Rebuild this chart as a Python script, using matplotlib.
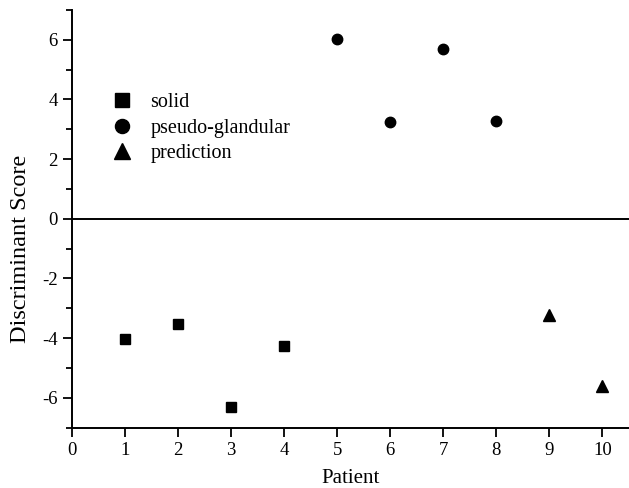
import matplotlib
matplotlib.use("Agg")
import matplotlib.pyplot as plt
from matplotlib.ticker import MultipleLocator

# discriminant scores per patient
solid_patients = [1, 2, 3, 4]
solid_scores = [-4.03, -3.54, -6.30, -4.26]

glandular_patients = [5, 6, 7, 8]
glandular_scores = [6.02, 3.26, 5.70, 3.29]

prediction_patients = [9, 10]
prediction_scores = [-3.24, -5.59]

x_ticks = list(range(0, 11))
y_ticks = [-6, -4, -2, 0, 2, 4, 6]

plt.rcParams["font.family"] = ["Liberation Serif", "DejaVu Serif"]
plt.rcParams["axes.unicode_minus"] = False

fig = plt.figure(figsize=(6.29, 4.88), dpi=100)
ax = fig.add_axes([0.114, 0.1236, 0.886, 0.856])

ax.plot(solid_patients, solid_scores, "s", color="black", ms=7, label="solid")
ax.plot(glandular_patients, glandular_scores, "o", color="black", ms=7.5,
        label="pseudo-glandular")
ax.plot(prediction_patients, prediction_scores, "^", color="black", ms=8.5,
        label="prediction")

ax.axhline(0, color="black", lw=1.4)

ax.set_xlim(0, 10.5)
ax.set_ylim(-7, 7)
ax.set_xticks(x_ticks)
ax.set_yticks(y_ticks)
ax.yaxis.set_minor_locator(MultipleLocator(1))

for side in ("top", "right"):
    ax.spines[side].set_visible(False)
for side in ("left", "bottom"):
    ax.spines[side].set_linewidth(1.4)

ax.tick_params(axis="both", which="major", direction="out", length=6.5,
               width=1.3, labelsize=13.5, colors="black")
ax.tick_params(axis="y", which="minor", direction="out", length=4, width=1.3)

ax.set_xlabel("Patient", fontsize=15)
ax.xaxis.set_label_coords(0.5, -0.1)
ax.set_ylabel("Discriminant Score", fontsize=17.5)
# the label sits a bit below the middle of the axis in the original
ax.yaxis.set_label_coords(-0.073, 0.4275)

ax.legend(loc="upper left", bbox_to_anchor=(0.04, 0.844), frameon=False,
          fontsize=14.5, markerscale=1.35, handletextpad=0.9,
          labelspacing=0.32, handlelength=1.0)

fig.savefig("out.png", dpi=100)
